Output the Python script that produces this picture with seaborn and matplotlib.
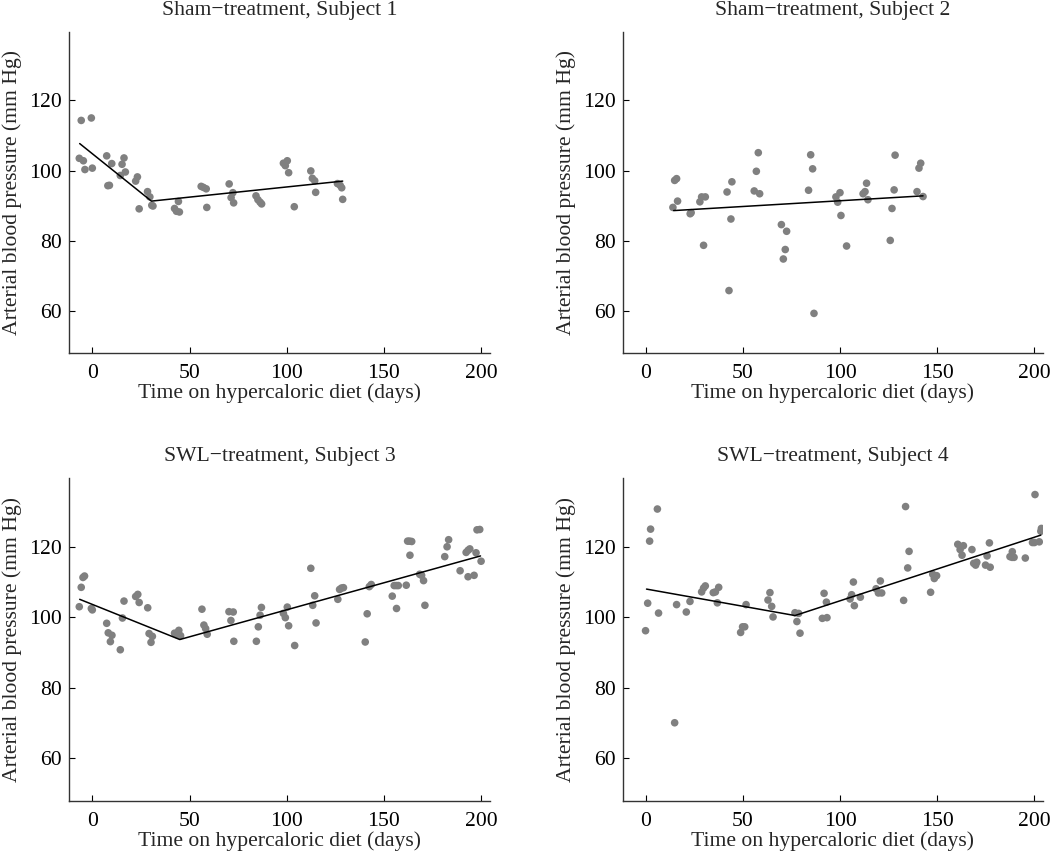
import matplotlib
matplotlib.use("Agg")
import matplotlib.pyplot as plt
import numpy as np
import pandas as pd
import seaborn as sns

# subject 1 (sham)
s1_day = [-5.7, -0.5, -6.7, -4.6, -3.8, 0.0, 7.4, 10.0, 8.0, 8.8, 15.3, 16.3, 17.0, 14.4,
          23.2, 22.3, 24.1, 28.4, 29.6, 30.6, 31.2, 44.3, 42.3, 43.3, 44.8, 56.0, 57.2, 58.6,
          58.9, 70.4, 72.3, 71.4, 72.7, 84.2, 85.2, 86.3, 87.1, 98.3, 99.3, 100.3, 101.0,
          103.9, 112.4, 113.2, 114.4, 114.9, 126.1, 127.5, 128.3, 128.8]
s1_bp = [114.3, 115.0, 103.5, 102.8, 100.3, 100.7, 104.2, 102.0, 95.7, 95.8, 101.8, 103.6, 99.6, 98.6,
         98.2, 97.0, 89.1, 94.0, 92.5, 90.1, 89.9, 91.2, 89.2, 88.4, 88.2, 95.5, 95.2, 94.8,
         89.5, 96.2, 93.7, 92.3, 90.8, 92.8, 91.7, 91.0, 90.5, 102.1, 101.4, 102.8, 99.4,
         89.7, 99.9, 97.8, 97.1, 93.8, 96.3, 95.8, 95.1, 91.8]
s1_fit_day = [-6.5, 30.4, 128.8]
s1_fit_bp = [107.7, 91.3, 97.0]

# subject 2 (sham)
s2_day = [13.9, 14.8, 15.8, 16.3, 22.8, 23.3, 27.8, 28.7, 30.6, 29.7, 41.8, 42.8, 43.8, 44.3,
          55.8, 56.9, 57.9, 58.6, 69.8, 70.8, 71.8, 72.5, 83.8, 84.9, 85.9, 86.6, 97.9, 98.8,
          100.0, 100.5, 103.4, 111.9, 112.9, 113.7, 114.4, 125.9, 126.8, 127.9, 128.4, 139.7,
          140.7, 141.6, 142.8]
s2_bp = [89.5, 97.2, 97.7, 91.3, 87.7, 88.0, 91.1, 92.5, 92.5, 78.7, 93.9, 65.8, 86.2, 96.8,
         94.2, 99.8, 105.1, 93.4, 84.6, 74.8, 77.5, 82.7, 94.4, 104.5, 100.5, 59.3, 92.5, 91.0,
         93.7, 87.2, 78.5, 93.4, 94.0, 96.4, 91.7, 80.1, 89.2, 94.5, 104.4, 94.0,
         100.7, 102.1, 92.6]
s2_fit_day = [14.3, 142.8]
s2_fit_bp = [88.6, 92.8]

# subject 3 (SWL)
s3_day = [-6.7, -5.7, -4.8, -4.0, -0.5, 0.0, 7.4, 8.2, 10.1, 9.3, 14.4, 15.5, 16.3, 22.3, 23.4,
          24.1, 28.5, 29.2, 30.9, 30.2, 42.3, 43.3, 44.5, 45.4, 56.4, 57.4, 58.3, 59.1, 70.3,
          72.5, 71.3, 72.8, 84.4, 85.4, 86.3, 87.0, 98.3, 99.3, 100.3, 101.0, 104.1, 112.4,
          113.4, 114.4, 115.1, 126.3, 127.2, 128.2, 129.2, 140.4, 141.4, 142.5, 143.5, 154.3,
          155.3, 156.4, 157.4, 156.5, 161.5, 162.2, 163.2, 164.3, 163.4, 168.4, 169.4, 170.4,
          171.1, 181.3, 182.5, 183.3, 189.2, 192.3, 193.3, 194.2, 193.3, 196.4, 197.4, 197.9,
          199.3, 200.0]
s3_bp = [103.0, 108.5, 111.3, 111.7, 102.5, 102.1, 98.3, 95.6, 94.9, 93.1, 90.8, 99.8, 104.6, 105.9, 106.5,
         104.2, 102.7, 95.4, 94.6, 92.9, 95.5, 95.1, 96.3, 94.8, 102.3, 97.8, 96.8, 95.2, 101.6,
         101.5, 99.1, 93.2, 93.2, 97.3, 100.6, 102.8, 101.1, 99.9, 102.9, 97.6, 92.0, 113.9,
         103.4, 106.1, 98.4, 105.1, 107.9, 108.3, 108.4, 93.0, 101.0, 108.7, 109.3, 106.0,
         109.0, 109.0, 109.0, 102.5, 109.1, 121.6, 121.6, 121.5, 117.6, 112.2, 111.9, 110.4,
         103.4, 117.2, 120.0, 122.0, 113.2, 118.4, 119.0, 119.4, 111.5, 111.9, 118.3, 124.8,
         124.9, 115.9]
s3_fit_day = [-6.5, 45.0, 199.7]
s3_fit_bp = [105.1, 93.7, 117.4]

# subject 4 (SWL)
s4_day = [-0.2, 0.9, 1.9, 2.4, 5.9, 6.5, 14.8, 15.8, 20.8, 22.7, 28.7, 29.7, 30.6, 34.7, 35.8,
          37.5, 36.8, 48.8, 49.8, 50.9, 51.6, 62.9, 63.9, 64.8, 65.5, 76.8, 78.7, 77.8, 79.4,
          90.9, 93.3, 91.8, 93.0, 105.2, 106.0, 106.9, 107.4, 110.5, 118.6, 119.8, 121.5, 120.8,
          132.8, 133.8, 134.9, 135.6, 146.7, 147.8, 148.6, 149.8, 160.7, 161.9, 162.9, 163.6,
          168.0, 168.9, 169.9, 170.5, 175.0, 177.4, 175.8, 177.0, 187.6, 188.7, 189.7, 188.8,
          195.5, 199.2, 200.2, 200.5, 203.8, 203.5, 202.7]
s4_bp = [96.2, 104.0, 121.6, 125.0, 130.7, 101.2, 70.1, 103.6, 101.5, 104.5, 107.2, 108.3, 108.9, 107.0, 107.2,
         108.5, 104.1, 95.7, 97.3, 97.3, 103.6, 104.9, 107.0, 103.1, 100.1, 101.3, 101.1, 98.8, 95.5,
         99.7, 99.9, 106.8, 104.3, 105.2, 106.4, 110.0, 103.3, 105.7, 108.1, 106.9, 106.9, 110.3,
         104.8, 131.4, 114.0, 118.7, 107.1, 112.2, 111.0, 111.8, 120.7, 119.2, 117.6, 120.3,
         119.2, 115.3, 114.8, 115.6, 114.8, 114.2, 117.4, 121.1, 117.2, 117.0, 117.0, 118.6,
         116.8, 121.2, 121.2, 134.8, 125.2, 124.4, 121.4]
s4_fit_day = [0.3, 76.8, 203.5]
s4_fit_bp = [108.0, 100.5, 123.3]

titles = ["Sham\u2212treatment, Subject 1", "Sham\u2212treatment, Subject 2",
          "SWL\u2212treatment, Subject 3", "SWL\u2212treatment, Subject 4"]
days = [s1_day, s2_day, s3_day, s4_day]
bps = [s1_bp, s2_bp, s3_bp, s4_bp]
fit_days = [s1_fit_day, s2_fit_day, s3_fit_day, s4_fit_day]
fit_bps = [s1_fit_bp, s2_fit_bp, s3_fit_bp, s4_fit_bp]

sns.set_style("ticks")
plt.rcParams['font.family'] = ['Liberation Serif', 'DejaVu Serif']
fs = 15.6
plt.rcParams['font.size'] = fs

fig = plt.figure(figsize=(10.5, 8.56), dpi=100)
# axes boxes [left, bottom, width, height] in figure fraction
boxes = [[0.0657, 0.5876, 0.401, 0.375],
         [0.593, 0.5876, 0.4003, 0.375],
         [0.0657, 0.0646, 0.401, 0.377],
         [0.593, 0.0646, 0.4003, 0.377]]

for i in range(4):
    ax = fig.add_axes(boxes[i])
    df = pd.DataFrame({'day': days[i], 'bp': bps[i]})
    sns.scatterplot(data=df, x='day', y='bp', ax=ax, color='#808080', s=30,
                    edgecolor='none', linewidth=0, zorder=2)
    fit = pd.DataFrame({'day': fit_days[i], 'bp': fit_bps[i]})
    sns.lineplot(data=fit, x='day', y='bp', ax=ax, color='black', lw=1.1,
                 sort=False, estimator=None, zorder=3)
    ax.set_xlim(-12, 204.6)
    ax.set_ylim(48, 139.5)
    ax.set_xticks([0, 50, 100, 150, 200])
    ax.set_yticks([60, 80, 100, 120])
    ax.tick_params(direction='in', length=4, width=0.8, colors='black', labelsize=fs)
    ax.tick_params(axis='x', pad=8)
    ax.tick_params(axis='y', pad=5)
    sns.despine(ax=ax)
    for sp in ['left', 'bottom']:
        ax.spines[sp].set_color('#333333')
        ax.spines[sp].set_linewidth(1.0)
    ax.set_title(titles[i], fontsize=fs, pad=12)
    ax.set_xlabel('Time on hypercaloric diet (days)', fontsize=fs, labelpad=0)
    ax.set_ylabel('Arterial blood pressure (mm Hg)', fontsize=fs, labelpad=5)

fig.savefig('out.png', dpi=100)
